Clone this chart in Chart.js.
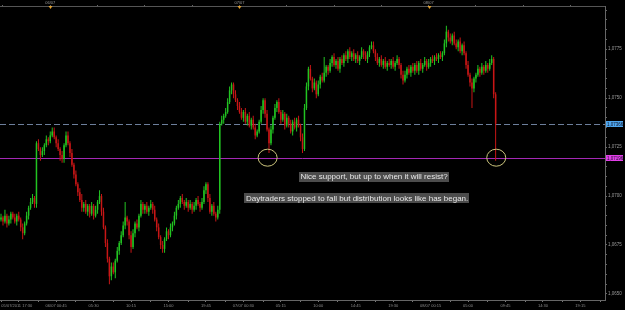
<!DOCTYPE html>
<html>
<head>
<meta charset="utf-8">
<script src="https://cdn.jsdelivr.net/npm/chart.js@4.4.0/dist/chart.umd.min.js"></script>
<style>
  html, body { margin: 0; padding: 0; background: #000; }
  canvas { display: block; }
</style>
</head>
<body>
<canvas id="chart" width="625" height="310"></canvas>
<script>
// AUD/USD, 15 min bars from 05/07/2011 17:45. prices are in pips above pipBase
const pipBase = 1.0600;
const firstOpen = 88;

const closes = [
  89, 87, 90, 86, 88, 91, 89, 87, 90, 88, 84, 81, 86, 90, 94, 97, 99, 96,
  127, 124, 121, 123, 126, 129, 128, 131, 133, 130, 127, 124, 121, 119, 126, 131,
  127, 122, 116, 111, 106, 102, 98, 94, 96, 92, 95, 91, 95, 90, 93, 97, 100,
  92, 84, 76, 68, 59, 64, 61, 67, 72, 76, 80, 85, 89, 87, 80, 74,
  81, 86, 84, 90, 96, 93, 95, 92, 94, 96, 93, 88, 84, 79, 75, 73,
  78, 82, 80, 84, 86, 90, 94, 96, 99, 97,
  95, 97, 94, 96, 93, 95, 98, 96, 94, 97, 103, 106, 99, 92, 95, 91, 89, 93,
  137, 139, 141, 143, 148, 154, 157, 152, 149, 146, 143,
  140, 143, 138, 141, 136, 139, 135, 131, 133, 138, 144, 149, 142, 134, 127,
  134, 140, 145, 148, 143, 139, 142, 136, 140, 137, 133, 138, 135, 139, 136, 130, 124,
  145, 156, 165, 160, 155, 158, 152, 157, 161, 159, 163, 166,
  164, 168, 171, 167, 169, 165, 170, 168, 172, 170, 174,
  171, 173, 170, 172, 169, 171, 174, 172, 170, 173, 176, 177,
  174, 171, 168, 170, 167, 169, 166, 168, 167, 169, 166, 168, 170, 167, 162, 159,
  162, 165, 163, 166, 164, 167, 164, 168, 165, 167, 169, 166,
  168, 170, 169, 171, 170, 172, 171, 173, 178, 184, 181, 179, 182, 178,
  176, 179, 174, 177, 173, 167, 162, 158, 155, 160,
  162, 165, 163, 166, 164, 167, 165, 168, 170, 152, 137
];

// wick lengths above / below the body, in pips
const wickUp = [
  2, 1, 3, 1, 2, 1, 1, 2, 1, 2, 1, 2, 1, 2, 1, 2, 2, 1,
  1, 2, 1, 2, 1, 2, 1, 2, 2, 2, 1, 2, 1, 2, 1, 2,
  2, 1, 2, 1, 2, 1, 2, 3, 1, 2, 1, 1, 2, 1, 2, 1, 3,
  1, 2, 1, 2, 1, 2, 2, 1, 2, 1, 2, 2, 8, 1, 1, 2,
  2, 1, 2, 1, 2, 1, 1, 2, 1, 2, 1, 2, 1, 2, 1, 2,
  1, 2, 1, 2, 1, 2, 1, 2, 1, 2,
  1, 2, 1, 2, 1, 2, 1, 2, 1, 2, 2, 1, 1, 2, 1, 2, 1, 2,
  1, 2, 1, 2, 2, 2, 1, 1, 2, 1, 2,
  2, 1, 2, 1, 2, 1, 2, 2, 1, 1, 2, 1, 1, 2, 1,
  2, 1, 2, 1, 2, 1, 2, 1, 2, 1, 2, 1, 2, 1, 2, 1, 2,
  2, 2, 1, 2, 1, 2, 1, 2, 1, 2, 8, 1,
  1, 2, 1, 2, 1, 2, 1, 2, 1, 2, 1,
  2, 1, 2, 1, 2, 1, 2, 1, 2, 1, 1, 2,
  2, 1, 2, 1, 2, 1, 2, 1, 2, 1, 2, 1, 2, 1, 1, 2,
  2, 1, 2, 1, 2, 1, 2, 1, 2, 1, 2, 1,
  2, 1, 2, 1, 2, 1, 2, 1, 2, 3, 1, 2, 1, 2,
  2, 1, 2, 1, 2, 1, 2, 1, 2, 1,
  1, 2, 1, 2, 1, 2, 1, 2, 2, 1, 1
];
const wickDn = [
  1, 2, 1, 2, 1, 2, 1, 1, 2, 1, 2, 3, 1, 1, 2, 1, 1, 2,
  2, 1, 3, 1, 2, 1, 2, 1, 1, 1, 2, 1, 3, 2, 2, 1,
  1, 2, 1, 2, 1, 2, 1, 2, 2, 1, 2, 2, 1, 2, 1, 2, 1,
  2, 1, 2, 2, 4, 2, 1, 3, 1, 2, 1, 1, 2, 2, 2, 3,
  1, 2, 1, 2, 1, 2, 2, 1, 2, 1, 2, 1, 2, 1, 2, 2,
  2, 1, 2, 1, 2, 1, 2, 1, 2, 1,
  2, 1, 2, 1, 2, 1, 2, 1, 2, 1, 1, 2, 2, 1, 2, 1, 2, 1,
  2, 1, 2, 1, 1, 1, 2, 2, 1, 2, 1,
  1, 2, 1, 2, 1, 2, 1, 2, 1, 1, 1, 2, 2, 1, 5,
  1, 2, 1, 2, 1, 2, 1, 2, 1, 2, 1, 2, 1, 2, 1, 2, 2,
  1, 1, 2, 1, 2, 1, 2, 1, 2, 1, 1, 2,
  2, 1, 2, 1, 2, 1, 2, 1, 2, 1, 2,
  1, 2, 1, 2, 1, 2, 1, 2, 1, 2, 2, 1,
  1, 2, 1, 2, 1, 2, 1, 2, 1, 2, 1, 2, 1, 2, 2, 2,
  1, 2, 1, 2, 1, 2, 1, 2, 1, 2, 1, 2,
  1, 2, 1, 2, 1, 2, 1, 2, 1, 2, 2, 1, 2, 1,
  1, 2, 1, 2, 1, 2, 1, 2, 10, 2,
  2, 1, 2, 1, 2, 1, 2, 1, 1, 2, 19
];

const axisBars = 307; // time axis runs on past the last bar
const bottomTickLabels = ["05/07/2011 17:30", "06/07 00:45", "05:30", "10:15", "15:00", "19:45",
  "07/07 00:30", "05:15", "10:00", "14:45", "19:30", "08/07 00:15", "05:00", "09:45", "14:30", "19:15"];
const dayLabels = ["06/07", "07/07", "08/07"];
const levels = [1.07366, 1.07196];
const notes = ["Nice support, but up to when it will resist?",
  "Daytraders stopped to fall but distribution looks like has began."];

// build candles
const toPrice = p => +(pipBase + p / 10000).toFixed(5);
const opens = closes.map((c, i) => i === 0 ? firstOpen : closes[i - 1]);
const bodies = closes.map((c, i) => [toPrice(opens[i]), toPrice(c)]);
const wicks = closes.map((c, i) => [
  toPrice(Math.min(opens[i], c) - wickDn[i]),
  toPrice(Math.max(opens[i], c) + wickUp[i])
]);
const colors = closes.map((c, i) => c >= opens[i] ? "#22c422" : "#c81616");

const barTimes = [];
const t0 = Date.UTC(2011, 6, 5, 17, 45);
for (let i = 0; i < axisBars; i++) {
  barTimes.push(new Date(t0 + i * 900000).toISOString().slice(0, 16));
}

// bottom labels every 19 bars (4h45), first one is pinned to the left edge
const bottomAt = { 8: bottomTickLabels[0] };
bottomTickLabels.slice(1).forEach((t, k) => { bottomAt[28 + 19 * k] = t; });
const bottomMarks = new Set();
for (let k = -3; k < 32; k++) {
  const i = Math.round(28 + 9.5 * k);
  if (i >= 0 && i < axisBars) bottomMarks.add(i);
}
const dayAt = {};
dayLabels.forEach((d, k) => { dayAt[25 + 96 * k] = d; });
const topMarks = new Set();
for (let i = 1; i < axisBars; i += 24) topMarks.add(i);

const fontFam = "'Liberation Sans', Arial, sans-serif";
const none = "rgba(0,0,0,0)";

const overlay = {
  id: "overlay",
  beforeDatasetsDraw(chart) {
    const { ctx, chartArea: a, scales: { y } } = chart;
    ctx.save();
    ctx.lineWidth = 1;
    levels.forEach((lv, i) => {
      const py = Math.round(y.getPixelForValue(lv)) + 0.5;
      ctx.strokeStyle = i === 0 ? "#6d7f9c" : "#a428b4";
      ctx.setLineDash(i === 0 ? [6, 3] : []);
      ctx.beginPath();
      ctx.moveTo(a.left, py);
      ctx.lineTo(a.right, py);
      ctx.stroke();
    });
    ctx.restore();
  },
  afterDraw(chart) {
    const { ctx, scales: { x, y, xTop } } = chart;
    ctx.save();

    // circles on the support touches
    ctx.strokeStyle = "#cbc47c";
    ctx.lineWidth = 1;
    [135.3, 251.3].forEach(b => {
      ctx.beginPath();
      ctx.ellipse(x.getPixelForValue(b), y.getPixelForValue(levels[1]), 9.5, 8.5, 0, 0, Math.PI * 2);
      ctx.stroke();
    });

    // text notes
    ctx.font = "8px " + fontFam;
    ctx.textAlign = "center";
    ctx.textBaseline = "middle";
    [[189.3, 1.07099], [180.7, 1.06988]].forEach(([b, p], i) => {
      const cx = x.getPixelForValue(b), cy = y.getPixelForValue(p);
      const w = ctx.measureText(notes[i]).width + 3;
      ctx.fillStyle = "#4c4c4c";
      ctx.fillRect(Math.round(cx - w / 2), Math.round(cy - 5), Math.round(w), 10);
      ctx.fillStyle = "#e8e8e8";
      ctx.fillText(notes[i], cx, cy + 0.5);
    });

    // price tags on the right axis
    ctx.font = "4.5px " + fontFam;
    ctx.textAlign = "left";
    levels.forEach((lv, i) => {
      const py = Math.round(y.getPixelForValue(lv));
      ctx.fillStyle = i === 0 ? "#4ea6ee" : "#e23ee8";
      ctx.fillRect(y.left + 1, py - 3, 17, 6);
      ctx.fillStyle = "#101020";
      ctx.fillText(lv.toFixed(5).replace(".", ","), y.left + 2, py + 0.3);
    });

    // day markers on the top ruler
    ctx.fillStyle = "#e0a030";
    Object.keys(dayAt).forEach(k => {
      const px = Math.round(xTop.getPixelForValue(+k)) + 0.5;
      ctx.beginPath();
      ctx.moveTo(px - 2, xTop.bottom);
      ctx.lineTo(px + 2, xTop.bottom);
      ctx.lineTo(px, xTop.bottom + 3);
      ctx.closePath();
      ctx.fill();
    });
    ctx.restore();
  }
};

new Chart(document.getElementById("chart"), {
  type: "bar",
  data: {
    labels: barTimes,
    datasets: [
      {
        label: "body",
        data: bodies,
        backgroundColor: colors,
        grouped: false,
        barPercentage: 0.75,
        categoryPercentage: 1,
        minBarLength: 1,
        inflateAmount: 0,
        order: 1
      },
      {
        label: "wick",
        data: wicks,
        backgroundColor: colors,
        grouped: false,
        barThickness: 1,
        inflateAmount: 0,
        order: 2
      }
    ]
  },
  options: {
    responsive: false,
    animation: false,
    layout: { padding: 0 },
    plugins: { legend: { display: false }, tooltip: { enabled: false } },
    scales: {
      x: {
        type: "category",
        position: "bottom",
        offset: true,
        grid: {
          offset: false,
          drawOnChartArea: false,
          tickLength: 2,
          color: c => bottomMarks.has(c.index) ? "#777" : none
        },
        border: { color: "#666" },
        ticks: {
          autoSkip: false,
          maxRotation: 0,
          minRotation: 0,
          padding: 1,
          color: "#8c8c8c",
          font: { size: 4, family: fontFam },
          callback: (v, i) => bottomAt[i] || ""
        },
        afterFit: s => { s.height = 10; }
      },
      xTop: {
        axis: "x",
        type: "category",
        position: "top",
        offset: true,
        grid: {
          offset: false,
          drawOnChartArea: false,
          tickLength: 1,
          color: c => topMarks.has(c.index) ? "#666" : none
        },
        border: { color: "#555" },
        ticks: {
          autoSkip: false,
          maxRotation: 0,
          minRotation: 0,
          padding: 0,
          color: "#9a9a9a",
          font: { size: 4, family: fontFam },
          callback: (v, i) => dayAt[i] || ""
        },
        afterFit: s => { s.height = 6; }
      },
      y: {
        position: "right",
        // bounds kept off the 0.0005 grid so the ticks land on round prices
        min: 1.06469,
        max: 1.07971,
        grid: { drawOnChartArea: false, tickLength: 2, color: "#666" },
        border: { color: "#666" },
        ticks: {
          stepSize: 0.0005,
          includeBounds: false,
          autoSkip: false,
          maxTicksLimit: 100,
          padding: 1,
          color: "#9a9a9a",
          font: { size: 4.5, family: fontFam },
          callback: v => Math.round(v * 10000) % 25 === 0 ? v.toFixed(4).replace(".", ",") : ""
        },
        afterFit: s => { s.width = 20; }
      }
    }
  },
  plugins: [overlay]
});
</script>
</body>
</html>
